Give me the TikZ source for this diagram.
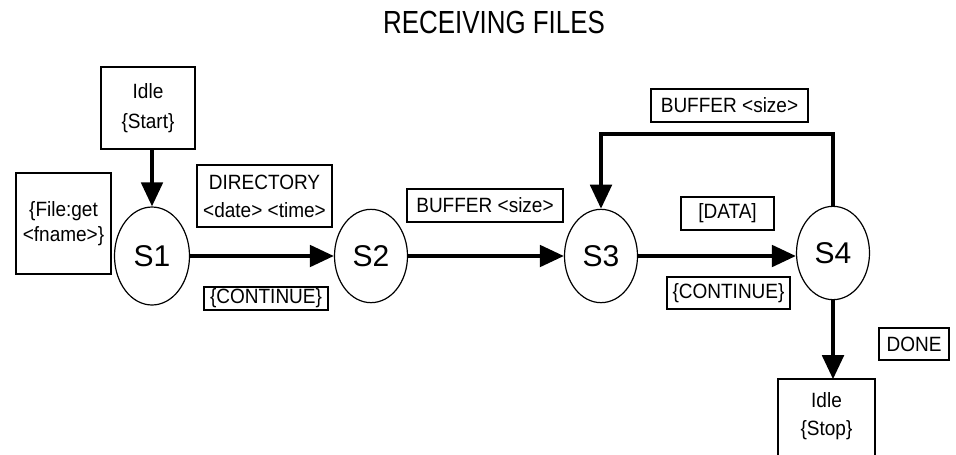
\documentclass[tikz,border=0pt]{standalone}
\usepackage{fontspec}
\setmainfont{Liberation Sans}
\newfontfamily\labfont{Liberation Sans}[FakeStretch=0.92]
\newfontfamily\titfont{Liberation Sans}[FakeStretch=0.81]
\usetikzlibrary{arrows.meta,shapes.geometric}
\begin{document}
\begin{tikzpicture}[x=0.75pt,y=-0.75pt,
  lbox/.style={draw,line width=1.2pt,inner sep=0pt,align=center,
    font=\labfont\fontsize{15.5}{21}\selectfont},
  state/.style={draw,ellipse,line width=0.9pt,inner sep=0pt,
    font=\fontsize{22.5}{24}\selectfont},
  trans/.style={line width=3pt,-{Triangle[width=16pt,length=18pt]}}]
\useasboundingbox (0,0) rectangle (956,454);
\node[font=\titfont\fontsize{24}{28}\selectfont] (title) at (494,22) {RECEIVING FILES};
% boxes
\node[lbox,minimum width=70.5pt,minimum height=61.5pt,font=\labfont\fontsize{15.5}{23}\selectfont] (start) at (148,108) {Idle\\\{Start\}};
\node[lbox,minimum width=71.25pt,minimum height=75.75pt,font=\labfont\fontsize{15.5}{19.5}\selectfont] (fget) at (63.5,223.5) {\{File:get\\[-1pt]<fname>\}};
\node[lbox,minimum width=101.25pt,minimum height=46.5pt] (dir) at (264.5,196) {DIRECTORY\\<date> <time>};
\node[lbox,minimum width=93pt,minimum height=17.25pt] (cont1) at (266,298.5) {\{CONTINUE\}};
\node[lbox,minimum width=117pt,minimum height=24.75pt] (buf1) at (485,205.5) {BUFFER <size>};
\node[lbox,minimum width=117.75pt,minimum height=24.75pt] (buf2) at (729.5,105.5) {BUFFER <size>};
\node[lbox,minimum width=69.75pt,minimum height=24.75pt] (data) at (727.5,213.5) {[DATA]};
\node[lbox,minimum width=92.25pt,minimum height=24pt] (cont2) at (728.5,293) {\{CONTINUE\}};
\node[lbox,minimum width=52.5pt,minimum height=24pt] (done) at (914,344) {DONE};
\node[lbox,draw=none,minimum width=71.25pt,minimum height=54pt] (stop) at (826.5,416) {Idle\\\{Stop\}};
\draw[line width=1.2pt] ([yshift=-20pt]stop.south west) -- (stop.north west) -- (stop.north east) -- ([yshift=-20pt]stop.south east);
% states
\node[state,minimum width=56.25pt,minimum height=73.5pt] (S1) at (152,256) {S1};
\node[state,minimum width=54.75pt,minimum height=70pt] (S2) at (371,256) {S2};
\node[state,minimum width=54.75pt,minimum height=70pt] (S3) at (601,256) {S3};
\node[state,minimum width=54.75pt,minimum height=70pt] (S4) at (833,253) {S4};
\coordinate (looptop) at (700,134);
% transitions
\draw[trans] (start.south -| S1.north) -- (S1.north);
\draw[trans] (S1.east) -- (S2.west);
\draw[trans] (S2.east) -- (S3.west);
\draw[trans] (S3.east) -- (S3.east -| S4.west);
\draw[trans] (S4.north) -- (S4.north |- looptop) -| (S3.north);
\draw[trans] (S4.south) -- (S4.south |- stop.north);
\end{tikzpicture}
\end{document}
